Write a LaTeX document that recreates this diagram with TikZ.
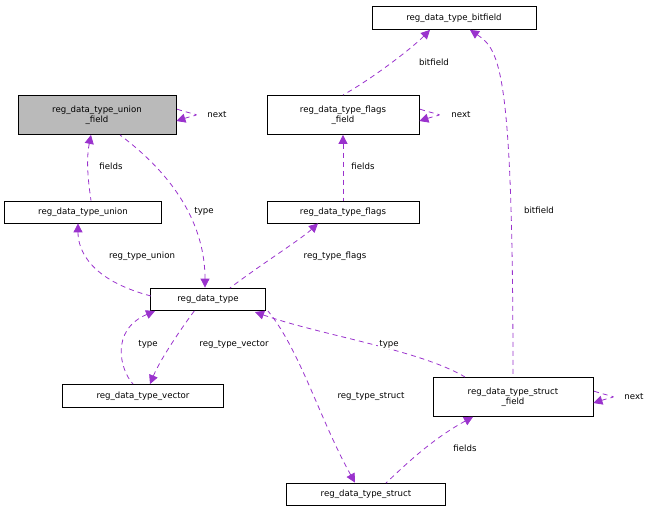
\documentclass[tikz,border=0pt]{standalone}
\usepackage{fontspec}
\setmainfont{DejaVu Sans}
\usetikzlibrary{arrows.meta}
\definecolor{edgepurple}{HTML}{9A32CD}
\begin{document}
\begin{tikzpicture}[x=1pt,y=-1pt,
	box/.style={draw, thick, fill=white, inner sep=0pt, font=\fontsize{8.6}{10}\selectfont, align=center},
	link/.style={draw=edgepurple, thick, dashed, dash pattern=on 5pt off 4pt, {Triangle[width=9pt,length=9pt]}-, fill=none},
	lbl/.style={font=\fontsize{8.6}{10}\selectfont, fill=white, inner sep=1pt}]
	\useasboundingbox (0,0) rectangle (656,513);

	\node[box, fill=black!27, minimum width=158pt, minimum height=39pt] (UF) at (97,115) {reg\_data\_type\_union\\\_field};
	\node[box, minimum width=157pt, minimum height=22pt] (U) at (83,212) {reg\_data\_type\_union};
	\node[box, minimum width=164pt, minimum height=23pt] (B) at (454,18) {reg\_data\_type\_bitfield};
	\node[box, minimum width=152pt, minimum height=39pt] (FF) at (343,115) {reg\_data\_type\_flags\\\_field};
	\node[box, minimum width=152pt, minimum height=22pt] (F) at (343,212) {reg\_data\_type\_flags};
	\node[box, minimum width=115pt, minimum height=22pt] (T) at (208,299) {reg\_data\_type};
	\node[box, minimum width=161pt, minimum height=23pt] (V) at (143,396) {reg\_data\_type\_vector};
	\node[box, minimum width=160pt, minimum height=39pt] (SF) at (513,397) {reg\_data\_type\_struct\\\_field};
	\node[box, minimum width=159pt, minimum height=22pt] (S) at (366,494) {reg\_data\_type\_struct};

	% self loops
	\draw[link] ([yshift=-6pt]UF.east) .. controls +(25,-8) and +(25,8) .. ([yshift=6pt]UF.east);
	\node[lbl] at (217,115) {next};
	\draw[link] ([yshift=-6pt]FF.east) .. controls +(25,-8) and +(25,8) .. ([yshift=6pt]FF.east);
	\node[lbl] at (461,115) {next};
	\draw[link] ([yshift=-6pt]SF.east) .. controls +(25,-8) and +(25,8) .. ([yshift=6pt]SF.east);
	\node[lbl] at (634,397) {next};

	\draw[link] ([xshift=-6pt]UF.south) .. controls (86,160) and (88,180) .. ([xshift=8pt]U.north);
	\node[lbl] at (111,166) {fields};
	\draw[link] ([xshift=-3pt]T.north) .. controls (205,230) and (180,180) .. (120,135);
	\node[lbl] at (204,211) {type};
	\draw[link] ([xshift=-5pt]U.south) .. controls (78,250) and (90,280) .. (151,296);
	\node[lbl] at (142,256) {reg\_type\_union};
	\draw[link] ([xshift=-25pt]F.south) .. controls (300,240) and (260,265) .. (230,288);
	\node[lbl] at (335,256) {reg\_type\_flags};
	\draw[link] (FF.south) -- (F.north);
	\node[lbl] at (363,166) {fields};
	\draw[link] ([xshift=-24pt]B.south) .. controls (410,50) and (370,80) .. (343,95);
	\node[lbl] at (434,62) {bitfield};
	\draw[link] ([xshift=16pt]B.south) .. controls (500,50) and (513,70) .. (513,377);
	\node[lbl] at (539,210) {bitfield};
	\draw[link] ([xshift=7pt]V.north) .. controls (160,360) and (180,330) .. (195,310);
	\node[lbl] at (234,344) {reg\_type\_vector};
	\draw[link] (155,311) .. controls (110,330) and (120,370) .. (133,384);
	\node[lbl] at (148,344) {type};
	\draw[link] (255,312) .. controls (320,335) and (420,350) .. (465,377);
	\node[lbl] at (389,344) {type};
	\draw[link] ([xshift=-11pt]S.north) .. controls (320,420) and (300,350) .. (268,311);
	\node[lbl] at (371,396) {reg\_type\_struct};
	\draw[link] ([xshift=-40pt]SF.south) .. controls (430,440) and (400,470) .. (386,483);
	\node[lbl] at (465,448) {fields};
\end{tikzpicture}
\end{document}
